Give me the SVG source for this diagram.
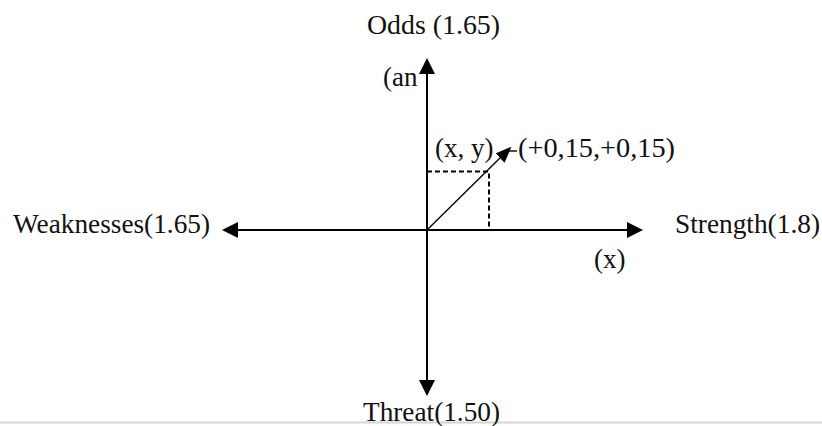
<svg xmlns="http://www.w3.org/2000/svg" width="822" height="426" viewBox="0 0 822 426">
  <style>
    .lbl { font-family: "Liberation Serif", "Times New Roman", serif; font-size: 27px; fill: #111; }
    .axis { stroke: #000; stroke-width: 2; fill: none; }
    .dash { stroke: #000; stroke-width: 2; stroke-dasharray: 5 3; fill: none; }
    .vec { stroke: #000; stroke-width: 1.4; fill: none; }
  </style>
  <defs>
    <marker id="arr" viewBox="0 0 16 16" refX="0" refY="8" markerWidth="16" markerHeight="16" markerUnits="userSpaceOnUse" orient="auto-start-reverse">
      <path d="M0,0 L16,8 L0,16 z" fill="#000"/>
    </marker>
    <marker id="arrS" viewBox="0 0 16 13" refX="0" refY="6.5" markerWidth="16" markerHeight="13" markerUnits="userSpaceOnUse" orient="auto">
      <path d="M0,0 L16,6.5 L0,13 z" fill="#000"/>
    </marker>
  </defs>
  <rect width="822" height="426" fill="#fff"/>
  <line x1="0" y1="422.5" x2="822" y2="422.5" stroke="#d4d4d4" stroke-width="2"/>
  <g id="connectors">
    <line class="axis" x1="238" y1="230" x2="627" y2="230" marker-start="url(#arr)" marker-end="url(#arr)"/>
    <line class="axis" x1="427" y1="74" x2="427" y2="380" marker-start="url(#arr)" marker-end="url(#arr)"/>
    <line class="vec" x1="427" y1="230" x2="500" y2="158" marker-end="url(#arrS)"/>
    <line class="vec" x1="508" y1="151" x2="517" y2="151"/>
    <polyline class="dash" points="427,171.5 489,171.5 489,230"/>
  </g>
  <g id="odds"><text class="lbl" x="367" y="34" textLength="133" lengthAdjust="spacingAndGlyphs">Odds (1.65)</text></g>
  <g id="an"><text class="lbl" x="383" y="86">(an</text></g>
  <g id="xy"><text class="lbl" x="435" y="157">(x, y)</text></g>
  <g id="delta"><text class="lbl" x="518" y="157" textLength="157" lengthAdjust="spacingAndGlyphs">(+0,15,+0,15)</text></g>
  <g id="weaknesses"><text class="lbl" x="13" y="233" textLength="197" lengthAdjust="spacingAndGlyphs">Weaknesses(1.65)</text></g>
  <g id="strength"><text class="lbl" x="675" y="233" textLength="145" lengthAdjust="spacingAndGlyphs">Strength(1.8)</text></g>
  <g id="xlabel"><text class="lbl" x="594" y="268">(x)</text></g>
  <g id="threat"><text class="lbl" x="363" y="421" textLength="137" lengthAdjust="spacingAndGlyphs">Threat(1.50)</text></g>
</svg>
